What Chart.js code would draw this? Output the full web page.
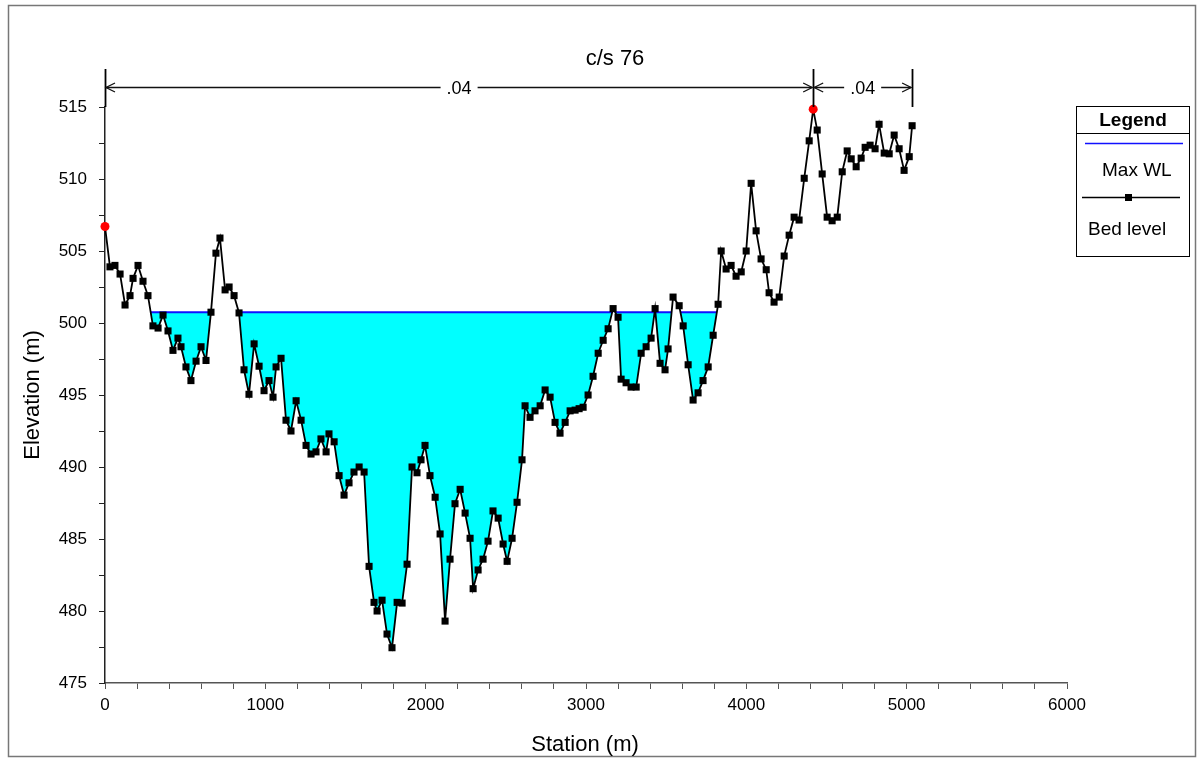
<!DOCTYPE html>
<html>
<head>
<meta charset="utf-8">
<script src="https://cdn.jsdelivr.net/npm/chart.js@4.4.1/dist/chart.umd.min.js"></script>
<style>
  html, body { margin: 0; padding: 0; background: #fff; }
  #wrap { position: relative; width: 1200px; height: 758px; }
</style>
</head>
<body>
<div id="wrap"><canvas id="xs" width="1200" height="758"></canvas></div>
<script>
// ====== Cross section data (c/s 76) ======
const stations = [
  0, 31, 62, 94, 125, 156, 175, 206, 237, 268,
  299, 331, 362, 393, 424, 455, 474, 505, 536, 568,
  599, 630, 661, 692, 717, 749, 774, 805, 836, 867,
  898, 930, 961, 992, 1023, 1048, 1067, 1098, 1129, 1160,
  1192, 1223, 1254, 1285, 1316, 1347, 1379, 1397, 1429, 1460,
  1491, 1522, 1553, 1585, 1616, 1647, 1678, 1697, 1728, 1759,
  1790, 1822, 1853, 1884, 1915, 1946, 1971, 1996, 2027, 2059,
  2090, 2121, 2152, 2183, 2215, 2246, 2277, 2296, 2327, 2358,
  2389, 2420, 2452, 2483, 2508, 2539, 2570, 2601, 2620, 2651,
  2682, 2714, 2745, 2776, 2807, 2838, 2870, 2901, 2932, 2957,
  2982, 3013, 3044, 3076, 3107, 3138, 3169, 3200, 3219, 3250,
  3281, 3313, 3344, 3375, 3406, 3431, 3462, 3493, 3512, 3543,
  3581, 3606, 3637, 3668, 3699, 3730, 3762, 3793, 3824, 3843,
  3874, 3905, 3936, 3968, 3999, 4030, 4061, 4092, 4124, 4142,
  4173, 4205, 4236, 4267, 4298, 4329, 4361, 4392, 4417, 4442,
  4473, 4504, 4535, 4567, 4598, 4629, 4654, 4685, 4716, 4741,
  4772, 4803, 4828, 4860, 4891, 4922, 4953, 4984, 5016, 5034
];
const bedLevel = [
  506.7, 503.9, 504.0, 503.4, 501.25, 501.9, 503.1, 504.0, 502.9, 501.9,
  499.8, 499.65, 500.55, 499.45, 498.1, 498.95, 498.35, 496.95, 496.0, 497.35,
  498.35, 497.4, 500.75, 504.85, 505.9, 502.3, 502.5, 501.9, 500.7, 496.75,
  495.05, 498.55, 497.0, 495.3, 496.0, 494.85, 496.95, 497.55, 493.25, 492.5,
  494.6, 493.25, 491.5, 490.9, 491.05, 491.95, 491.05, 492.3, 491.75, 489.4,
  488.05, 488.9, 489.65, 490.0, 489.65, 483.1, 480.6, 480.0, 480.75, 478.4,
  477.45, 480.6, 480.55, 483.25, 490.0, 489.6, 490.5, 491.5, 489.4, 487.9,
  485.35, 479.3, 483.6, 487.45, 488.45, 486.8, 485.05, 481.55, 482.85, 483.6,
  484.85, 486.95, 486.45, 484.65, 483.45, 485.05, 487.55, 490.5, 494.25, 493.45,
  493.9, 494.25, 495.35, 494.85, 493.1, 492.35, 493.1, 493.9, 493.95, 494.05,
  494.15, 495.0, 496.3, 497.9, 498.8, 499.6, 501.0, 500.4, 496.1, 495.85,
  495.55, 495.55, 497.9, 498.35, 498.95, 501.0, 497.2, 496.75, 498.2, 501.8,
  501.2, 499.8, 497.1, 494.65, 495.15, 496.0, 496.95, 499.15, 501.3, 505.0,
  503.75, 504.0, 503.25, 503.55, 505.0, 509.7, 506.4, 504.45, 503.7, 502.1,
  501.45, 501.8, 504.65, 506.1, 507.35, 507.15, 510.05, 512.65, 514.85, 513.4,
  510.35, 507.35, 507.1, 507.35, 510.5, 511.95, 511.4, 510.85, 511.45, 512.2,
  512.35, 512.1, 513.8, 511.8, 511.75, 513.05, 512.1, 510.6, 511.55, 513.7
];
const bankStations = [0, 4417];
const maxWL = 500.75;
const nBreaks = [0, 4417, 5034];
const nValues = ['.04', '.04'];
const xTicks = [0, 1000, 2000, 3000, 4000, 5000, 6000];
const yTicks = [475, 480, 485, 490, 495, 500, 505, 510, 515];

const FONT = 'Liberation Sans, Arial, sans-serif';
const bedPoints = stations.map((s, i) => ({ x: s, y: bedLevel[i] }));
const isBank = i => bankStations.includes(stations[i]);

// ====== Water fill between max WL and the bed ======
const waterPlugin = {
  id: 'water',
  beforeDatasetsDraw(chart) {
    const pts = chart.getDatasetMeta(0).data;
    const area = chart.chartArea;
    const ctx = chart.ctx;
    const yWL = chart.scales.y.getPixelForValue(maxWL);
    ctx.save();
    // clip to everything above the bed line
    ctx.beginPath();
    ctx.moveTo(pts[0].x, area.top - 1);
    pts.forEach(p => ctx.lineTo(p.x, p.y));
    ctx.lineTo(pts[pts.length - 1].x, area.top - 1);
    ctx.closePath();
    ctx.clip();
    ctx.fillStyle = '#00ffff';
    ctx.fillRect(area.left, yWL, area.right - area.left, area.bottom - yWL);
    ctx.strokeStyle = '#1010ff';
    ctx.lineWidth = 2;
    ctx.beginPath();
    ctx.moveTo(area.left, yWL);
    ctx.lineTo(area.right, yWL);
    ctx.stroke();
    ctx.restore();
  }
};

// ====== Title, Manning's n bar, axis titles, legend, frame ======
function arrow(ctx, x, y, dir) {
  ctx.beginPath();
  ctx.moveTo(x + dir * 9, y - 4.5);
  ctx.lineTo(x, y);
  ctx.lineTo(x + dir * 9, y + 4.5);
  ctx.stroke();
}

const decorPlugin = {
  id: 'decor',
  afterDraw(chart) {
    const ctx = chart.ctx;
    const xs = chart.scales.x;
    ctx.save();

    // outer frame
    ctx.strokeStyle = '#777';
    ctx.lineWidth = 1.5;
    ctx.strokeRect(8.5, 5.5, 1187, 751);

    // title
    ctx.fillStyle = '#000';
    ctx.font = '22px ' + FONT;
    ctx.textAlign = 'center';
    ctx.textBaseline = 'alphabetic';
    ctx.fillText('c/s 76', 615, 65);

    // Manning's n bar
    const yBar = 87.5;
    ctx.strokeStyle = '#000';
    ctx.lineWidth = 1.8;
    nBreaks.forEach(s => {
      const px = Math.round(xs.getPixelForValue(s)) + 0.5;
      ctx.beginPath();
      ctx.moveTo(px, 69);
      ctx.lineTo(px, 107);
      ctx.stroke();
    });
    ctx.font = '18px ' + FONT;
    ctx.lineWidth = 1.3;
    ctx.strokeStyle = '#111';
    ctx.textBaseline = 'middle';
    nValues.forEach((v, i) => {
      const a = xs.getPixelForValue(nBreaks[i]);
      const b = xs.getPixelForValue(nBreaks[i + 1]);
      const mid = (a + b) / 2;
      const half = ctx.measureText(v).width / 2 + 6;
      ctx.beginPath();
      ctx.moveTo(a + 1, yBar);
      ctx.lineTo(mid - half, yBar);
      ctx.moveTo(mid + half, yBar);
      ctx.lineTo(b - 1, yBar);
      ctx.stroke();
      arrow(ctx, a + 1, yBar, 1);
      arrow(ctx, b - 1, yBar, -1);
      ctx.fillText(v, mid, yBar + 2);
    });

    // axis titles
    ctx.fillStyle = '#000';
    ctx.font = '22px ' + FONT;
    ctx.textBaseline = 'middle';
    ctx.fillText('Station (m)', 585, 745);
    ctx.save();
    ctx.translate(33, 395);
    ctx.rotate(-Math.PI / 2);
    ctx.fillText('Elevation (m)', 0, 0);
    ctx.restore();

    // legend box
    ctx.strokeStyle = '#000';
    ctx.lineWidth = 1;
    ctx.strokeRect(1076.5, 106.5, 113, 150);
    ctx.beginPath();
    ctx.moveTo(1076, 133.5);
    ctx.lineTo(1189, 133.5);
    ctx.stroke();
    ctx.font = 'bold 19px ' + FONT;
    ctx.textBaseline = 'alphabetic';
    ctx.fillText('Legend', 1133, 126);
    ctx.strokeStyle = '#1010ff';
    ctx.lineWidth = 1.5;
    ctx.beginPath();
    ctx.moveTo(1085, 143.5);
    ctx.lineTo(1183, 143.5);
    ctx.stroke();
    ctx.font = '19px ' + FONT;
    ctx.textAlign = 'left';
    ctx.fillText('Max WL', 1102, 176);
    ctx.strokeStyle = '#000';
    ctx.beginPath();
    ctx.moveTo(1082, 197.5);
    ctx.lineTo(1180, 197.5);
    ctx.stroke();
    ctx.fillRect(1125, 194, 7, 7);
    ctx.fillText('Bed level', 1088, 235);

    ctx.restore();
  }
};

new Chart(document.getElementById('xs'), {
  type: 'line',
  data: {
    datasets: [{
      label: 'Bed level',
      data: bedPoints,
      borderColor: '#000',
      borderWidth: 1.8,
      tension: 0,
      fill: false,
      pointStyle: c => isBank(c.dataIndex) ? 'circle' : 'rect',
      pointRadius: c => isBank(c.dataIndex) ? 4.5 : 5,
      pointBackgroundColor: c => isBank(c.dataIndex) ? '#ff0000' : '#000',
      pointBorderWidth: 0,
      clip: false
    }]
  },
  options: {
    responsive: false,
    animation: false,
    events: [],
    layout: { padding: { left: 0, top: 107, right: 133, bottom: 35 } },
    plugins: { legend: { display: false }, tooltip: { enabled: false } },
    scales: {
      x: {
        type: 'linear',
        min: 0,
        max: 6000,
        afterFit: s => { s.height = 40; },
        afterBuildTicks: s => {
          s.ticks = [];
          for (let v = 0; v <= 6000; v += 200) s.ticks.push({ value: v });
        },
        ticks: {
          autoSkip: false,
          maxRotation: 0,
          padding: 6,
          color: '#000',
          font: { family: FONT, size: 17 },
          callback: v => xTicks.includes(v) ? String(v) : ''
        },
        grid: { drawOnChartArea: false, drawTicks: true, tickLength: 6, color: '#555' },
        border: { display: true, color: '#555', width: 1.5 }
      },
      y: {
        type: 'linear',
        min: 475,
        max: 515,
        afterFit: s => { s.width = 105; },
        afterBuildTicks: s => {
          s.ticks = [];
          for (let v = 475; v <= 515; v += 2.5) s.ticks.push({ value: v });
        },
        ticks: {
          autoSkip: false,
          padding: 12,
          color: '#000',
          font: { family: FONT, size: 17 },
          callback: v => yTicks.includes(v) ? String(v) : ''
        },
        grid: { drawOnChartArea: false, drawTicks: true, tickLength: 6, color: '#222' },
        border: { display: true, color: '#222', width: 1.5 }
      }
    }
  },
  plugins: [waterPlugin, decorPlugin]
});
</script>
</body>
</html>
